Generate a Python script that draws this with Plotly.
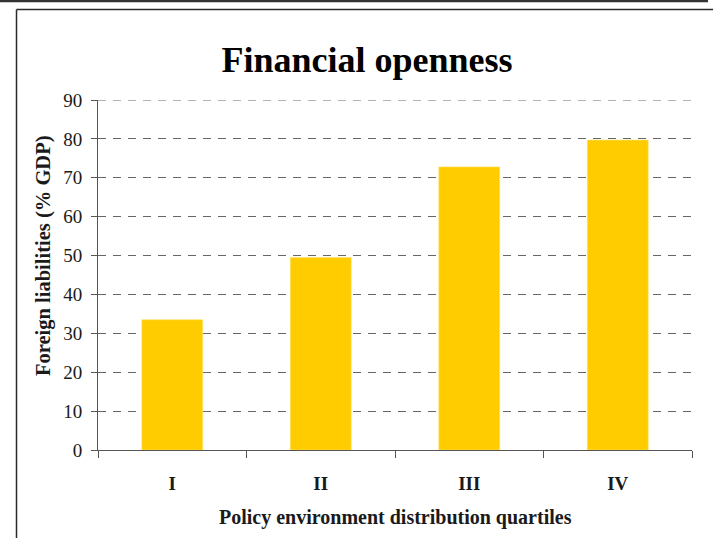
import plotly.graph_objects as go

# Foreign liabilities by policy-environment quartile
quartiles = ["I", "II", "III", "IV"]
liabilities = [33.5, 49.5, 72.8, 79.7]
y_ticks = [0, 10, 20, 30, 40, 50, 60, 70, 80, 90]
y_max = 90

W, H = 713, 538
L, R, T, B = 98, 21, 100, 88
PW, PH = W - L - R, H - T - B


def px_x(px):
    return (px - L) / PW


def px_y(py):
    return (H - B - py) / PH


SERIF = "Liberation Serif, Times New Roman, serif"
INK = "#1a1a1a"
GRID = dict(color="#666", width=1, dash="8px,7px")

fig = go.Figure(
    go.Bar(
        x=quartiles,
        y=liabilities,
        marker=dict(color="#FFCC00", line=dict(color="#FFE066", width=0.6)),
        hoverinfo="x+y",
    )
)

fig.update_layout(
    width=W,
    height=H,
    margin=dict(l=L, r=R, t=T, b=B),
    paper_bgcolor="white",
    plot_bgcolor="white",
    bargap=0.59,
    showlegend=False,
    font=dict(family=SERIF, color=INK),
    title=dict(
        text="<b>Financial openness</b>",
        font=dict(family=SERIF, size=36, color="black"),
        x=px_x(367), xref="paper", xanchor="center",
        y=1 - 59 / H, yref="container", yanchor="middle",
    ),
)

fig.update_xaxes(
    type="category",
    showline=True, linecolor="#555", linewidth=1,
    ticks="outside", tickson="boundaries", ticklen=7, tickcolor="#555",
    tickfont=dict(family=SERIF, size=19, color=INK, weight="bold"),
    ticklabelstandoff=16,
    showgrid=False,
)

fig.update_yaxes(
    range=[0, y_max],
    tickvals=y_ticks,
    showline=True, linecolor="#555", linewidth=1,
    ticks="outside", ticklen=6, tickcolor="#555",
    tickfont=dict(family=SERIF, size=19, color=INK),
    ticklabelstandoff=5,
    showgrid=True, gridcolor=GRID["color"], gridwidth=GRID["width"],
    griddash=GRID["dash"],
    zeroline=False,
)

# gridline along the top of the value range
fig.add_shape(type="line", xref="paper", yref="y",
              x0=0, x1=1, y0=y_max, y1=y_max, line=GRID, layer="below")

fig.add_annotation(
    text="<b>Foreign liabilities (% GDP)</b>",
    xref="paper", yref="paper", x=px_x(43), y=px_y(256),
    xanchor="center", yanchor="middle", textangle=-90, showarrow=False,
    font=dict(family=SERIF, size=20.5, color=INK),
)
fig.add_annotation(
    text="<b>Policy environment distribution quartiles</b>",
    xref="paper", yref="paper", x=px_x(395), y=px_y(517),
    xanchor="center", yanchor="middle", showarrow=False,
    font=dict(family=SERIF, size=20, color=INK),
)

# page frame lines
frame = dict(color="#2a2a2a", width=1.5)
fig.add_shape(type="line", xref="paper", yref="paper",
              x0=px_x(0), x1=px_x(708), y0=px_y(1), y1=px_y(1),
              line=dict(color="#333", width=2.5))
fig.add_shape(type="line", xref="paper", yref="paper",
              x0=px_x(16.5), x1=px_x(716), y0=px_y(9.5), y1=px_y(9.5), line=frame)
fig.add_shape(type="line", xref="paper", yref="paper",
              x0=px_x(16.5), x1=px_x(16.5), y0=px_y(9.5), y1=px_y(542), line=frame)

fig.write_html("out.html")
